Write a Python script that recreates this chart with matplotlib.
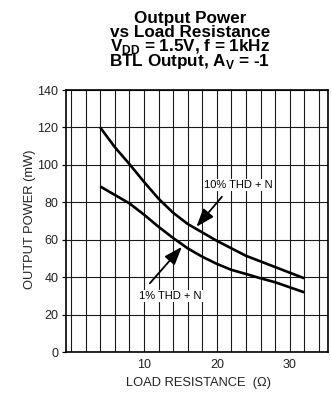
import numpy as np
import matplotlib
matplotlib.use('Agg')
import matplotlib.pyplot as plt
from matplotlib.ticker import MultipleLocator, FixedLocator

plt.rcParams['font.family'] = ['Liberation Sans', 'DejaVu Sans']
plt.rcParams['mathtext.fontset'] = 'custom'
plt.rcParams['mathtext.rm'] = 'Liberation Sans:bold'

# load resistance (ohm) and output power (mW)
load_r = [4, 6, 8, 10, 12, 14, 16, 18, 20, 22, 24, 26, 28, 30, 32]
pout_10pct = [120, 109.5, 100.5, 91, 82, 74.5, 68.5, 64, 59.5, 55.5, 51.5, 48.5, 45.5, 42.5, 39.5]
pout_1pct = [88.5, 84, 79.5, 73.5, 67, 61, 55.5, 51, 47.2, 44, 41.8, 39.5, 37.4, 34.7, 32]

x_ticks = [10, 20, 30]
y_ticks = [0, 20, 40, 60, 80, 100, 120, 140]

fig = plt.figure(figsize=(3.31, 3.96), dpi=100)
ax = fig.add_axes([0.1994, 0.1104, 0.7924, 0.6623])

ax.plot(load_r, pout_10pct, color='k', lw=1.9, solid_capstyle='butt', zorder=3)
ax.plot(load_r, pout_1pct, color='k', lw=1.9, solid_capstyle='butt', zorder=3)

ax.set_xlim(-0.7, 35.3)
ax.set_ylim(0, 140)
ax.xaxis.set_major_locator(FixedLocator(x_ticks))
ax.xaxis.set_minor_locator(MultipleLocator(2))
ax.yaxis.set_major_locator(FixedLocator(y_ticks))
ax.grid(which='both', axis='x', color='#1a1a1a', lw=0.8)
ax.grid(which='major', axis='y', color='#1a1a1a', lw=0.8)
ax.set_axisbelow(True)

ax.tick_params(axis='x', which='both', length=0, pad=4.5, labelsize=9, labelcolor='#222')
ax.tick_params(axis='y', length=3, width=0.9, pad=2.5, labelsize=9, labelcolor='#222')
for s in ax.spines.values():
    s.set_linewidth(1.2)

# curve labels with arrows
box = dict(facecolor='white', edgecolor='none', pad=1.0)
ax.text(23.0, 89.3, '10% THD + N', ha='center', va='center', fontsize=8, bbox=box, zorder=4)
ax.text(13.6, 30.0, '1% THD + N', ha='center', va='center', fontsize=8, bbox=box, zorder=4)
arrow = dict(arrowstyle='-|>,head_length=1.1,head_width=0.4', lw=1.3, color='k',
             shrinkA=0, shrinkB=0)
ax.annotate('', xy=(17.2, 67.0), xytext=(20.7, 83.0), arrowprops=arrow, zorder=5)
ax.annotate('', xy=(15.2, 56.3), xytext=(10.8, 36.8), arrowprops=arrow, zorder=5)

# stacked title lines
title_lines = ['Output Power', 'vs Load Resistance',
               r'V$_{\mathrm{DD}}$ = 1.5V, f = 1kHz',
               r'BTL Output, A$_{\mathrm{V}}$ = -1']
baselines = [22.7, 37.0, 51.5, 66.0]
for line, b in zip(title_lines, baselines):
    fig.text(0.574, 1 - b / 396, line, ha='center', va='baseline',
             fontsize=12.3, fontweight='bold')

fig.text(30 / 331, 1 - 219 / 396, 'OUTPUT POWER (mW)', rotation=90,
         ha='center', va='center', fontsize=9.3, color='#222')
fig.text(198 / 331, 1 - 382.7 / 396, 'LOAD RESISTANCE  (Ω)',
         ha='center', va='center', fontsize=9.3, color='#222')

fig.savefig('out.png', dpi=100)
